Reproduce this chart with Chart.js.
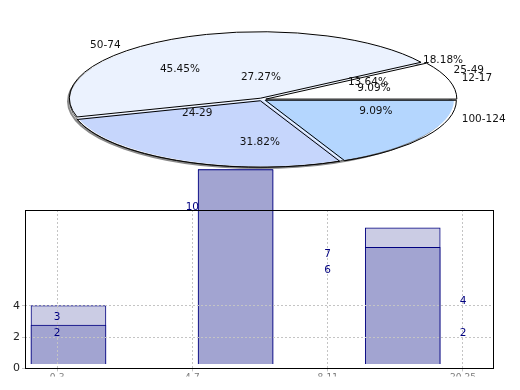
<!DOCTYPE html>
<html>
<head>
<meta charset="utf-8">
<script src="https://cdn.jsdelivr.net/npm/chart.js@4.4.1/dist/chart.umd.min.js"></script>
<style>
  body { margin: 0; background: #fff; }
  #wrap { position: relative; width: 520px; height: 390px; overflow: hidden; }
  canvas { position: absolute; left: 0; top: 0; }
</style>
</head>
<body>
<div id="wrap">
  <canvas id="barChart" width="520" height="377"></canvas>
  <canvas id="pieChart" width="520" height="390"></canvas>
</div>
<script>
// bar chart data
const barCategories = ['0-3', '4-7', '8-11', '20-25'];
const seriesA = [2, 10, 6, 4];   // front bars, also the pie slices
const seriesB = [3, 10, 7, 2];   // back bars
const yTicks = [0, 2, 4];

// pie names as they appear round the pie
const pieNames = ['25-49', '12-17', '50-74', '24-29', '100-124'];

Chart.defaults.font.family = 'DejaVu Sans';

function pct(arr, i) {
    const total = arr.reduce((a, b) => a + b, 0);
    return (arr[i] / total * 100).toFixed(2) + '%';
}

// ---------- bar chart ----------
const barBox = {
    id: 'barBox',
    afterDraw(chart) {
        const ctx = chart.ctx;
        const a = chart.chartArea;
        const x = chart.scales.x, y = chart.scales.y;
        ctx.save();
        ctx.strokeStyle = '#000';
        ctx.lineWidth = 1;
        ctx.strokeRect(Math.round(a.left) + 0.5, Math.round(a.top) + 0.5,
            Math.round(a.right - a.left), Math.round(a.bottom - a.top));
        // value labels
        ctx.fillStyle = '#000080';
        ctx.font = '10.5px "DejaVu Sans"';
        ctx.textAlign = 'center';
        ctx.textBaseline = 'middle';
        barCategories.forEach((c, i) => {
            const px = x.getPixelForValue(i);
            if (seriesA[i] !== seriesB[i]) {
                ctx.fillText(String(seriesB[i]), px, y.getPixelForValue(seriesB[i]) - 4);
            }
            ctx.fillText(String(seriesA[i]), px, y.getPixelForValue(seriesA[i]) - 4);
        });
        ctx.restore();
    }
};

new Chart(document.getElementById('barChart'), {
    type: 'bar',
    data: {
        datasets: [{
            data: seriesA.map((v, i) => ({ x: i, y: v })),
            backgroundColor: '#a2a4d1',
            borderColor: '#000080',
            borderWidth: 1,
            xAxisID: 'xb',
            yAxisID: 'yb',
            grouped: false,
            barThickness: 75,
            clip: false
        }, {
            data: seriesB.map((v, i) => ({ x: i, y: v })),
            backgroundColor: '#cbcce4',
            borderColor: '#000080',
            borderWidth: 1,
            xAxisID: 'xb',
            yAxisID: 'yb',
            grouped: false,
            barThickness: 75,
            clip: false
        }]
    },
    options: {
        responsive: false,
        animation: false,
        layout: { padding: { top: 210, right: 27, left: 0, bottom: 0 } },
        plugins: { legend: { display: false }, tooltip: { enabled: false } },
        scales: {
            x: {
                type: 'linear',
                offset: false,
                min: -0.2365,
                max: 3.2217,
                afterBuildTicks: s => { s.ticks = barCategories.map((c, i) => ({ value: i })); },
                afterFit: s => { s.height = 8; },
                ticks: {
                    callback: v => barCategories[v],
                    font: { size: 9 },
                    color: '#777',
                    padding: 1,
                    maxRotation: 0,
                    autoSkip: false
                },
                grid: { color: '#c4c4c4', z: 1, tickLength: 3, offset: false },
                border: { display: false, dash: [2, 2] }
            },
            y: {
                min: 0,
                max: 10.1,
                afterBuildTicks: s => { s.ticks = yTicks.map(v => ({ value: v })); },
                afterFit: s => { s.width = 25; },
                ticks: { font: { size: 11 }, color: '#222', padding: 2 },
                grid: { color: '#c4c4c4', z: 1, tickLength: 3 },
                border: { display: false, dash: [2, 2] }
            },
            xb: { type: 'linear', display: false, offset: false, grid: { offset: false }, min: -0.26, max: 2.54 },
            yb: { type: 'linear', display: false, min: -0.2308, max: 7.923 }
        }
    },
    plugins: [barBox]
});

// ---------- pie ----------
const PIE_CY = 99.5;
const K = 66.5 / 191;

// where each text sits: angle (deg, clockwise from 3 o'clock), share of radius
const pieTextSpots = [
    [pieNames[0], -22.3, 1.17],
    [pieNames[1], -15.9, 1.17],
    [pieNames[2], 225, 1.16],
    [pieNames[3], 148, 0.40],
    [pieNames[4], 14.7, 1.2],
    [pct(seriesB, 0), -25.2, 0.613],
    [pct(seriesA, 0), -16, 0.61],
    [pct(seriesB, 1), 227, 0.63],
    [pct(seriesA, 2), 269, 0.33],
    [pct(seriesB, 2), 91, 0.64],
    [pct(seriesB, 3), 16, 0.62],
    [pct(seriesA, 3), -32.2, 1.12]
];

function slicePath(ctx, el) {
    const mid = (el.startAngle + el.endAngle) / 2;
    const off = el.options.offset || 0;
    ctx.save();
    ctx.translate(0, PIE_CY);
    ctx.scale(1, K);
    ctx.translate(0, -el.y);
    ctx.translate(Math.cos(mid) * off, Math.sin(mid) * off);
    ctx.beginPath();
    ctx.moveTo(el.x, el.y);
    ctx.arc(el.x, el.y, el.outerRadius, el.startAngle, el.endAngle);
    ctx.closePath();
    ctx.restore();
}

const squash = {
    id: 'squash',
    beforeDatasetsDraw(chart) {
        const ctx = chart.ctx;
        const el = chart.getDatasetMeta(0).data[0];
        const r = el.outerRadius;
        ctx.save();
        ctx.strokeStyle = '#8a8a8a';
        ctx.lineWidth = 2;
        ctx.beginPath();
        ctx.ellipse(el.x - 3, PIE_CY + 2, r, r * K, 0, 0, Math.PI * 2);
        ctx.stroke();
        ctx.strokeStyle = '#555';
        ctx.lineWidth = 1;
        ctx.beginPath();
        ctx.ellipse(el.x - 1.5, PIE_CY + 1, r, r * K, 0, 0, Math.PI * 2);
        ctx.stroke();
        ctx.restore();
        ctx.save();
        ctx.translate(0, PIE_CY);
        ctx.scale(1, K);
        ctx.translate(0, -el.y);
    },
    afterDatasetsDraw(chart) {
        const ctx = chart.ctx;
        ctx.restore();
        const arcs = chart.getDatasetMeta(0).data;
        ctx.save();
        ctx.strokeStyle = '#000';
        ctx.lineWidth = 1;
        arcs.forEach(el => { slicePath(ctx, el); ctx.stroke(); });
        const el = arcs[0];
        const rx = el.outerRadius, ry = el.outerRadius * K;
        ctx.fillStyle = '#111';
        ctx.font = '10.5px "DejaVu Sans"';
        ctx.textAlign = 'center';
        ctx.textBaseline = 'middle';
        pieTextSpots.forEach(([t, deg, f]) => {
            const a = deg * Math.PI / 180;
            ctx.fillText(t, el.x + rx * f * Math.cos(a), PIE_CY + ry * f * Math.sin(a));
        });
        ctx.restore();
    }
};

const pieColors = ['#ffffff', '#ebf2fe', '#c6d6fc', '#b4d6fe'];

new Chart(document.getElementById('pieChart'), {
    type: 'pie',
    data: {
        labels: barCategories.slice().reverse(),
        datasets: [{
            data: seriesA.slice().reverse(),
            backgroundColor: pieColors.slice().reverse(),
            borderWidth: 0,
            offset: 4,
            radius: 191,
            clip: false
        }]
    },
    options: {
        responsive: false,
        animation: false,
        rotation: 90,
        layout: { padding: { left: 71, right: 67, top: 4, bottom: 4 } },
        plugins: { legend: { display: false }, tooltip: { enabled: false } }
    },
    plugins: [squash]
});
</script>
</body>
</html>
